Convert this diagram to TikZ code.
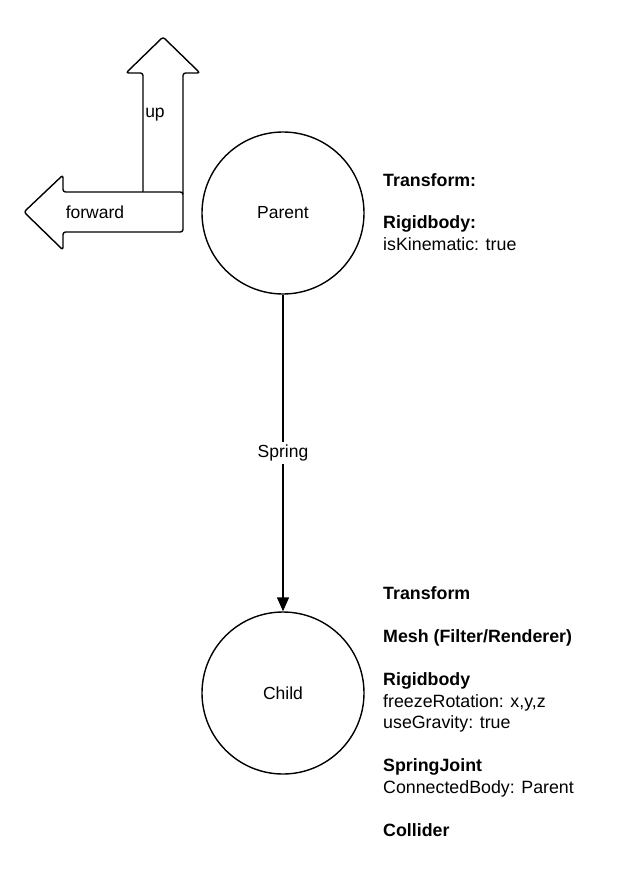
\documentclass[tikz,border=0pt]{standalone}
\usepackage{fontspec}
\setmainfont{Liberation Sans}
\usetikzlibrary{arrows.meta}
\begin{document}
\begin{tikzpicture}[x=1pt,y=-1pt,
  lbl/.style={font=\fontsize{17.5}{20}\selectfont, inner sep=0pt},
  info/.style={font=\fontsize{17.8}{20}\selectfont, anchor=base west, inner sep=0pt},
  infob/.style={info, font=\fontsize{17.8}{20}\selectfont\bfseries},
  body/.style={draw, circle, line width=1.4pt, minimum size=162pt, inner sep=0pt, font=\fontsize{17.5}{20}\selectfont},
  bigarrow/.style={draw, line width=1.4pt, rounded corners=2.5pt, line join=round}]
\useasboundingbox (0,0) rectangle (632,877);
% arrows
\draw[bigarrow] (143,192) -- (143,73) -- (126,73) -- (163,37) -- (200,73) -- (183,73) -- (183,194);
\draw[bigarrow, fill=white] (183,192) -- (63,192) -- (63,175) -- (24,212) -- (63,250) -- (63,232) -- (183,232) -- cycle;
\node[lbl] (up) at (155,115) {up};
\node[lbl] (fwd) at (95,212) {forward};
% bodies
\node[body] (parent) at (283,213) {Parent};
\node[body] (child) at (283,693) {Child};
\draw[line width=1.4pt, -{Triangle[width=12pt,length=14pt]}] (parent) -- node[fill=white, lbl, inner sep=3pt] (spring) {Spring} (child);
% parent info
\node[infob] (pt) at (383,187) {Transform:};
\node[infob] (pr) at (383,229) {Rigidbody:};
\node[info] (pk) at (383,250) {isKinematic: true};
% child info
\node[infob] (ct) at (383,599) {Transform};
\node[infob] (cm) at (383,642) {Mesh (Filter/Renderer)};
\node[infob] (cr) at (383,685) {Rigidbody};
\node[info] (cf) at (383,707) {freezeRotation: x,y,z};
\node[info] (cg) at (383,728) {useGravity: true};
\node[infob] (cs) at (383,771) {SpringJoint};
\node[info] (cc) at (383,793) {ConnectedBody: Parent};
\node[infob] (cl) at (383,836) {Collider};
\end{tikzpicture}
\end{document}
